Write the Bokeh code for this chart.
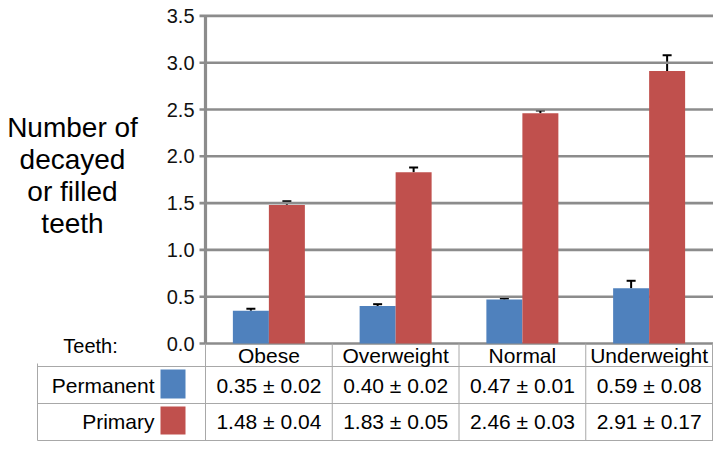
from bokeh.plotting import figure
from bokeh.models import Range1d, ColumnDataSource, Whisker, TeeHead
from bokeh.core.properties import value
from bokeh.embed import file_html
from bokeh.resources import INLINE

# ---- data ----
categories = ["Obese", "Overweight", "Normal", "Underweight"]
permanent = [0.35, 0.40, 0.47, 0.59]
permanent_err = [0.02, 0.02, 0.01, 0.08]
primary = [1.48, 1.83, 2.46, 2.91]
primary_err = [0.04, 0.05, 0.03, 0.17]
series_names = ["Permanent", "Primary"]
series_colors = ["#4F81BD", "#C0504D"]
y_ticks = [0.0, 0.5, 1.0, 1.5, 2.0, 2.5, 3.0, 3.5]
y_tick_labels = ["0.0", "0.5", "1.0", "1.5", "2.0", "2.5", "3.0", "3.5"]
y_title = "Number of\ndecayed\nor filled\nteeth"
table_caption = "Teeth:"

# ---- layout (page pixels -> data units) ----
W, H = 721, 449
X0_PX, GROUP_PX = 205.0, 126.75      # axis x, pixels per category
Y0_PX, UNIT_PX = 343.0, 93.6         # zero line y, pixels per unit
def dx(px):
    return (px - X0_PX) / GROUP_PX
def dy(px):
    return (Y0_PX - px) / UNIT_PX

FONT = value("Liberation Sans")
GRID = "#8c8c8c"
TABLE = "#a8a8a8"

p = figure(width=W, height=H,
           x_range=Range1d(dx(0), dx(W)),
           y_range=Range1d(dy(H), dy(0)),
           output_backend="svg", toolbar_location=None,
           x_axis_location=None, y_axis_location=None,
           min_border=0)
p.grid.visible = False
p.outline_line_color = None
p.background_fill_color = "white"
p.border_fill_color = "white"

n = len(categories)
xc = [i + 0.5 for i in range(n)]
bar_w = 0.284
off = 0.142

# gridlines + ticks
p.segment(x0=[dx(199)] * len(y_ticks), x1=[dx(712.5)] * len(y_ticks),
          y0=y_ticks, y1=y_ticks, line_color=GRID, line_width=2.6)
# axis line
p.segment(x0=[0], x1=[0], y0=[y_ticks[0]], y1=[y_ticks[-1]],
          line_color=GRID, line_width=3.2)
# tick labels
p.text(x=[dx(194)] * len(y_ticks), y=y_ticks, text=y_tick_labels,
       text_font=FONT, text_font_size="20px", text_align="right",
       text_baseline="middle", text_color="#111111")

# bars
xs_perm = [x - off for x in xc]
xs_prim = [x + off for x in xc]
p.vbar(x=xs_perm, top=permanent, width=bar_w, bottom=0,
       fill_color=series_colors[0], line_color=None)
p.vbar(x=xs_prim, top=primary, width=bar_w, bottom=0,
       fill_color=series_colors[1], line_color=None)

# error bars (upper only)
for xs, vals, errs in ((xs_perm, permanent, permanent_err),
                       (xs_prim, primary, primary_err)):
    src = ColumnDataSource(dict(base=xs, lower=vals,
                                upper=[v + e for v, e in zip(vals, errs)]))
    p.add_layout(Whisker(base="base", lower="lower", upper="upper",
                         source=src, dimension="height",
                         line_color="black", line_width=2,
                         upper_head=TeeHead(size=9, line_width=2,
                                            line_color="black"),
                         lower_head=None))

# y title
p.text(x=[dx(72)], y=[dy(175)], text=[y_title], text_font=FONT,
       text_font_size="28px", text_align="center", text_baseline="middle",
       text_line_height=1.03, text_color="black")

# ---- table ----
row_edges = [dy(366), dy(403), dy(440)]
p.segment(x0=[dx(37)] * 3, x1=[dx(712.5)] * 3, y0=row_edges, y1=row_edges,
          line_color=TABLE, line_width=1)
p.segment(x0=[dx(37)], x1=[dx(37)], y0=[dy(363)], y1=[row_edges[-1]],
          line_color=TABLE, line_width=1)
col_edges = list(range(n + 1))
p.segment(x0=col_edges, x1=col_edges, y0=[0] * (n + 1),
          y1=[row_edges[-1]] * (n + 1), line_color=TABLE, line_width=1)

p.text(x=[dx(90)], y=[dy(345)], text=[table_caption], text_font=FONT,
       text_font_size="20px", text_align="center", text_baseline="middle",
       text_color="black")
p.text(x=xc, y=[dy(355)] * n, text=categories, text_font=FONT,
       text_font_size="21px", text_align="center", text_baseline="middle",
       text_color="black")

row_mid = [dy(385), dy(421)]
p.text(x=[dx(154)] * 2, y=row_mid, text=series_names, text_font=FONT,
       text_font_size="21px", text_align="right", text_baseline="middle",
       text_color="black")
p.quad(left=[dx(160)] * 2, right=[dx(185)] * 2,
       top=[dy(369), dy(406)], bottom=[dy(398), dy(434)],
       fill_color=series_colors, line_color=None)

for vals, errs, ym in ((permanent, permanent_err, row_mid[0]),
                       (primary, primary_err, row_mid[1])):
    labels = [f"{v:.2f} \u00b1 {e:.2f}" for v, e in zip(vals, errs)]
    p.text(x=xc, y=[ym] * n, text=labels, text_font=FONT,
           text_font_size="21px", text_align="center",
           text_baseline="middle", text_color="black")

open("out.html", "w").write(file_html(p, INLINE))
